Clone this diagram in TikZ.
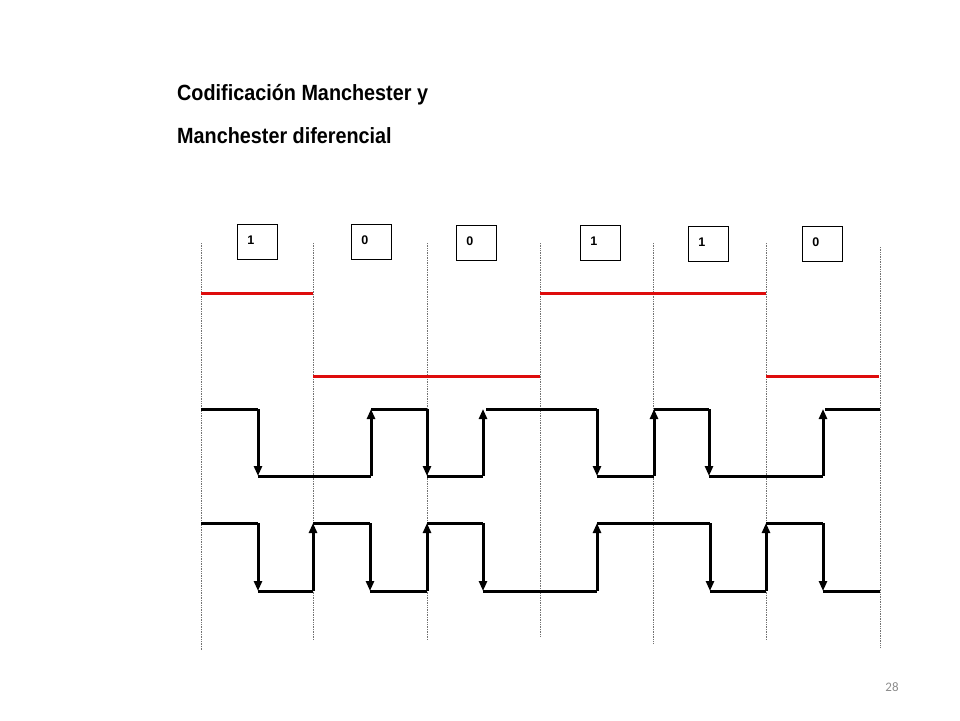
\documentclass[tikz,border=0pt]{standalone}
\usepackage{fontspec}
\setmainfont{Liberation Sans}
\newfontfamily\titlefont[FakeStretch=0.9]{Liberation Sans}
\newfontfamily\pagefont{Carlito}
\usetikzlibrary{arrows.meta}
\definecolor{sigred}{RGB}{222,12,12}
\tikzset{
    sig/.style={line width=3pt},
    sigred/.style={line width=3pt, draw=sigred},
    edge/.style={sig, -{Triangle[width=8pt,length=10pt]}},
    grid/.style={densely dotted, line width=0.7pt, draw=black!55},
    bitbox/.style={draw, line width=0.9pt, anchor=north west, align=left, font=\bfseries\fontsize{12.5}{14}\selectfont,
        inner xsep=10pt, inner ysep=0pt, text width=20pt, text height=20.5pt, text depth=14.5pt},
    title/.style={anchor=base west, inner sep=0pt, font=\titlefont\bfseries\fontsize{22}{26}\selectfont}
}

\begin{document}
\begin{tikzpicture}[x=1pt, y=-1pt]
        \useasboundingbox (0,0) rectangle (960,720);
        \pgfmathsetmacro{\hia}{409};
        \pgfmathsetmacro{\loa}{476};
        \pgfmathsetmacro{\hib}{523};
        \pgfmathsetmacro{\lob}{591};
        \node [title] (titleA) at (177,100) {Codificación Manchester y};
        \node [title] (titleB) at (177,143) {Manchester diferencial};
        \foreach \x/\t/\b in {201/243/650, 313/243/640, 427/243/640, 540/243/637, 653/243/643, 766/243/640, 880/247/648}
            \draw [grid] (\x, \t) -- (\x, \b);
        \foreach \k/\x/\y/\v in {1/237/224/1, 2/351/224/0, 3/456/225/0, 4/580/225/1, 5/688/226/1, 6/802/226/0}
            \node [bitbox] (bit\k) at (\x, \y) {\v};
        \draw [sigred] (201, 293) -- (313, 293);
        \draw [sigred] (313, 376) -- (540, 376);
        \draw [sigred] (540, 293) -- (766, 293);
        \draw [sigred] (766, 376) -- (879, 376);
        \draw [sig] (201, \hia) -- (258, \hia);
        \draw [sig] (258, \loa) -- (371, \loa);
        \draw [sig] (371, \hia) -- (427, \hia);
        \draw [sig] (427, \loa) -- (483, \loa);
        \draw [sig] (486, \hia) -- (597, \hia);
        \draw [sig] (597, \loa) -- (654, \loa);
        \draw [sig] (654, \hia) -- (709, \hia);
        \draw [sig] (709, \loa) -- (823, \loa);
        \draw [sig] (825, \hia) -- (880, \hia);
        \foreach \x/\f/\t in {258/\hia/\loa, 371/\loa/\hia, 427/\hia/\loa, 483/\loa/\hia, 597/\hia/\loa, 654/\loa/\hia, 709/\hia/\loa, 823/\loa/\hia}
            \draw [edge] (\x, \f) -- (\x, \t);
        \draw [sig] (201, \hib) -- (258, \hib);
        \draw [sig] (258, \lob) -- (313, \lob);
        \draw [sig] (313, \hib) -- (370, \hib);
        \draw [sig] (370, \lob) -- (427, \lob);
        \draw [sig] (427, \hib) -- (483, \hib);
        \draw [sig] (483, \lob) -- (597, \lob);
        \draw [sig] (597, \hib) -- (710, \hib);
        \draw [sig] (710, \lob) -- (766, \lob);
        \draw [sig] (766, \hib) -- (823, \hib);
        \draw [sig] (823, \lob) -- (880, \lob);
        \foreach \x/\f/\t in {258/\hib/\lob, 313/\lob/\hib, 370/\hib/\lob, 427/\lob/\hib, 483/\hib/\lob, 597/\lob/\hib, 710/\hib/\lob, 766/\lob/\hib, 823/\hib/\lob}
            \draw [edge] (\x, \f) -- (\x, \t);
        \node [font=\pagefont\fontsize{13}{15}\selectfont, text=black!45] (page) at (892, 687) {28};
\end{tikzpicture}
\end{document}
